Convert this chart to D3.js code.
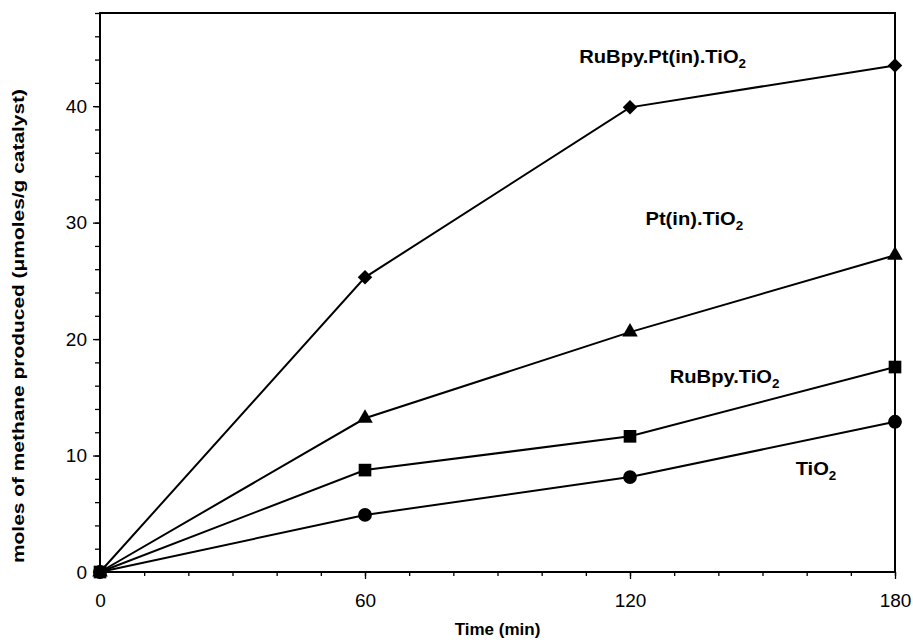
<!DOCTYPE html>
<html>
<head>
<meta charset="utf-8">
<script src="https://cdn.jsdelivr.net/npm/d3@7"></script>
<style>
  body { margin: 0; background: #fff; }
  text { font-family: Arial, "Liberation Sans", sans-serif; fill: #000; }
</style>
</head>
<body>
<div id="graph"></div>
<script>
const MARGIN = { LEFT: 100, RIGHT: 18, TOP: 13, BOTTOM: 71 }
const WIDTH = 913 - MARGIN.LEFT - MARGIN.RIGHT
const HEIGHT = 643 - MARGIN.TOP - MARGIN.BOTTOM

// data
const times = [0, 60, 120, 180]
const tio2 = [0, 4.9, 8.15, 12.9]
const rubpyTio2 = [0, 8.75, 11.65, 17.6]
const ptTio2 = [0, 13.2, 20.6, 27.2]
const rubpyPtTio2 = [0, 25.3, 39.9, 43.5]
const xTicks = [0, 60, 120, 180]
const yTicks = [0, 10, 20, 30, 40]

// series labels (text without the subscript 2) and where they sit, in data units
const labelNames = ["RuBpy.Pt(in).TiO", "Pt(in).TiO", "RuBpy.TiO", "TiO"]
const labelX = [108.5, 123.5, 129, 157.5]
const labelY = [43.7, 29.8, 16.2, 8.3]

const svg = d3.select("#graph").append("svg")
    .attr("width", 913)
    .attr("height", 643)

const g = svg.append("g")
    .attr("transform", `translate(${MARGIN.LEFT}, ${MARGIN.TOP})`)

const x = d3.scaleLinear()
    .range([0, WIDTH])
    .domain([0, 180])

const y = d3.scaleLinear()
    .range([HEIGHT, 0])
    .domain([0, 48])

// minor ticks
g.append("g")
    .attr("transform", `translate(0, ${HEIGHT})`)
    .call(d3.axisBottom(x).tickValues(d3.range(0, 181, 10)).tickSize(4).tickFormat(""))
    .call(a => a.select(".domain").remove())
g.append("g")
    .call(d3.axisLeft(y).tickValues(d3.range(0, 49, 2)).tickSize(5).tickFormat(""))
    .call(a => a.select(".domain").remove())

// X Axis
const xAxisCall = d3.axisBottom(x).tickValues(xTicks).tickSize(7).tickPadding(15)
g.append("g")
    .attr("class", "x axis")
    .attr("transform", `translate(0, ${HEIGHT})`)
    .call(xAxisCall)
    .call(a => a.select(".domain").remove())
    .selectAll("text").attr("font-size", "19px").attr("font-family", "Arial, 'Liberation Sans'")

// Y Axis
const yAxisCall = d3.axisLeft(y).tickValues(yTicks).tickSize(7).tickPadding(6)
g.append("g")
    .attr("class", "y axis")
    .call(yAxisCall)
    .call(a => a.select(".domain").remove())
    .selectAll("text").attr("font-size", "19px").attr("font-family", "Arial, 'Liberation Sans'")

g.selectAll(".tick line").attr("stroke", "#000").attr("stroke-width", 1.3)

// frame
g.append("rect")
    .attr("width", WIDTH)
    .attr("height", HEIGHT)
    .attr("fill", "none")
    .attr("stroke", "#000")
    .attr("stroke-width", 2)

// Labels
g.append("text")
    .attr("y", HEIGHT + 63)
    .attr("x", WIDTH / 2)
    .attr("font-size", "17px")
    .attr("font-weight", "bold")
    .attr("text-anchor", "middle")
    .text("Time (min)")
g.append("text")
    .attr("transform", "rotate(-90)")
    .attr("y", -76)
    .attr("x", -(326 - MARGIN.TOP))
    .attr("font-size", "16px")
    .attr("font-weight", "bold")
    .attr("text-anchor", "middle")
    .attr("textLength", 474)
    .attr("lengthAdjust", "spacingAndGlyphs")
    .text("moles of methane produced (\u03bcmoles/g catalyst)")

const allSeries = [tio2, ptTio2, rubpyPtTio2, rubpyTio2]
const symbols = [d3.symbolCircle, d3.symbolTriangle, d3.symbolSquare, d3.symbolSquare]
const symSizes = [150, 105, 105, 160]
const symRotate = [0, 0, 45, 0]

const line = d3.line()
    .x((d, i) => x(times[i]))
    .y(d => y(d))

allSeries.forEach(vals => {
    g.append("path")
        .datum(vals)
        .attr("d", line)
        .attr("fill", "none")
        .attr("stroke", "#000")
        .attr("stroke-width", 2)
})

allSeries.forEach((vals, k) => {
    g.selectAll(".pt" + k)
        .data(vals)
        .enter().append("path")
        .attr("class", "pt" + k)
        .attr("transform", (d, i) => `translate(${x(times[i])}, ${y(d)}) rotate(${symRotate[k]})`)
        .attr("d", d3.symbol().type(symbols[k]).size(symSizes[k]))
        .attr("fill", "#000")
})

// series labels, drawn a bit wide like the original
labelNames.forEach((name, i) => {
    const t = g.append("text")
        .attr("transform", `translate(${x(labelX[i])}, ${y(labelY[i])}) scale(1.12, 1)`)
        .attr("font-size", "18px")
        .attr("font-weight", "bold")
    t.append("tspan").text(name)
    t.append("tspan").attr("font-size", "12px").attr("dy", 5).text("2")
})
</script>
</body>
</html>
